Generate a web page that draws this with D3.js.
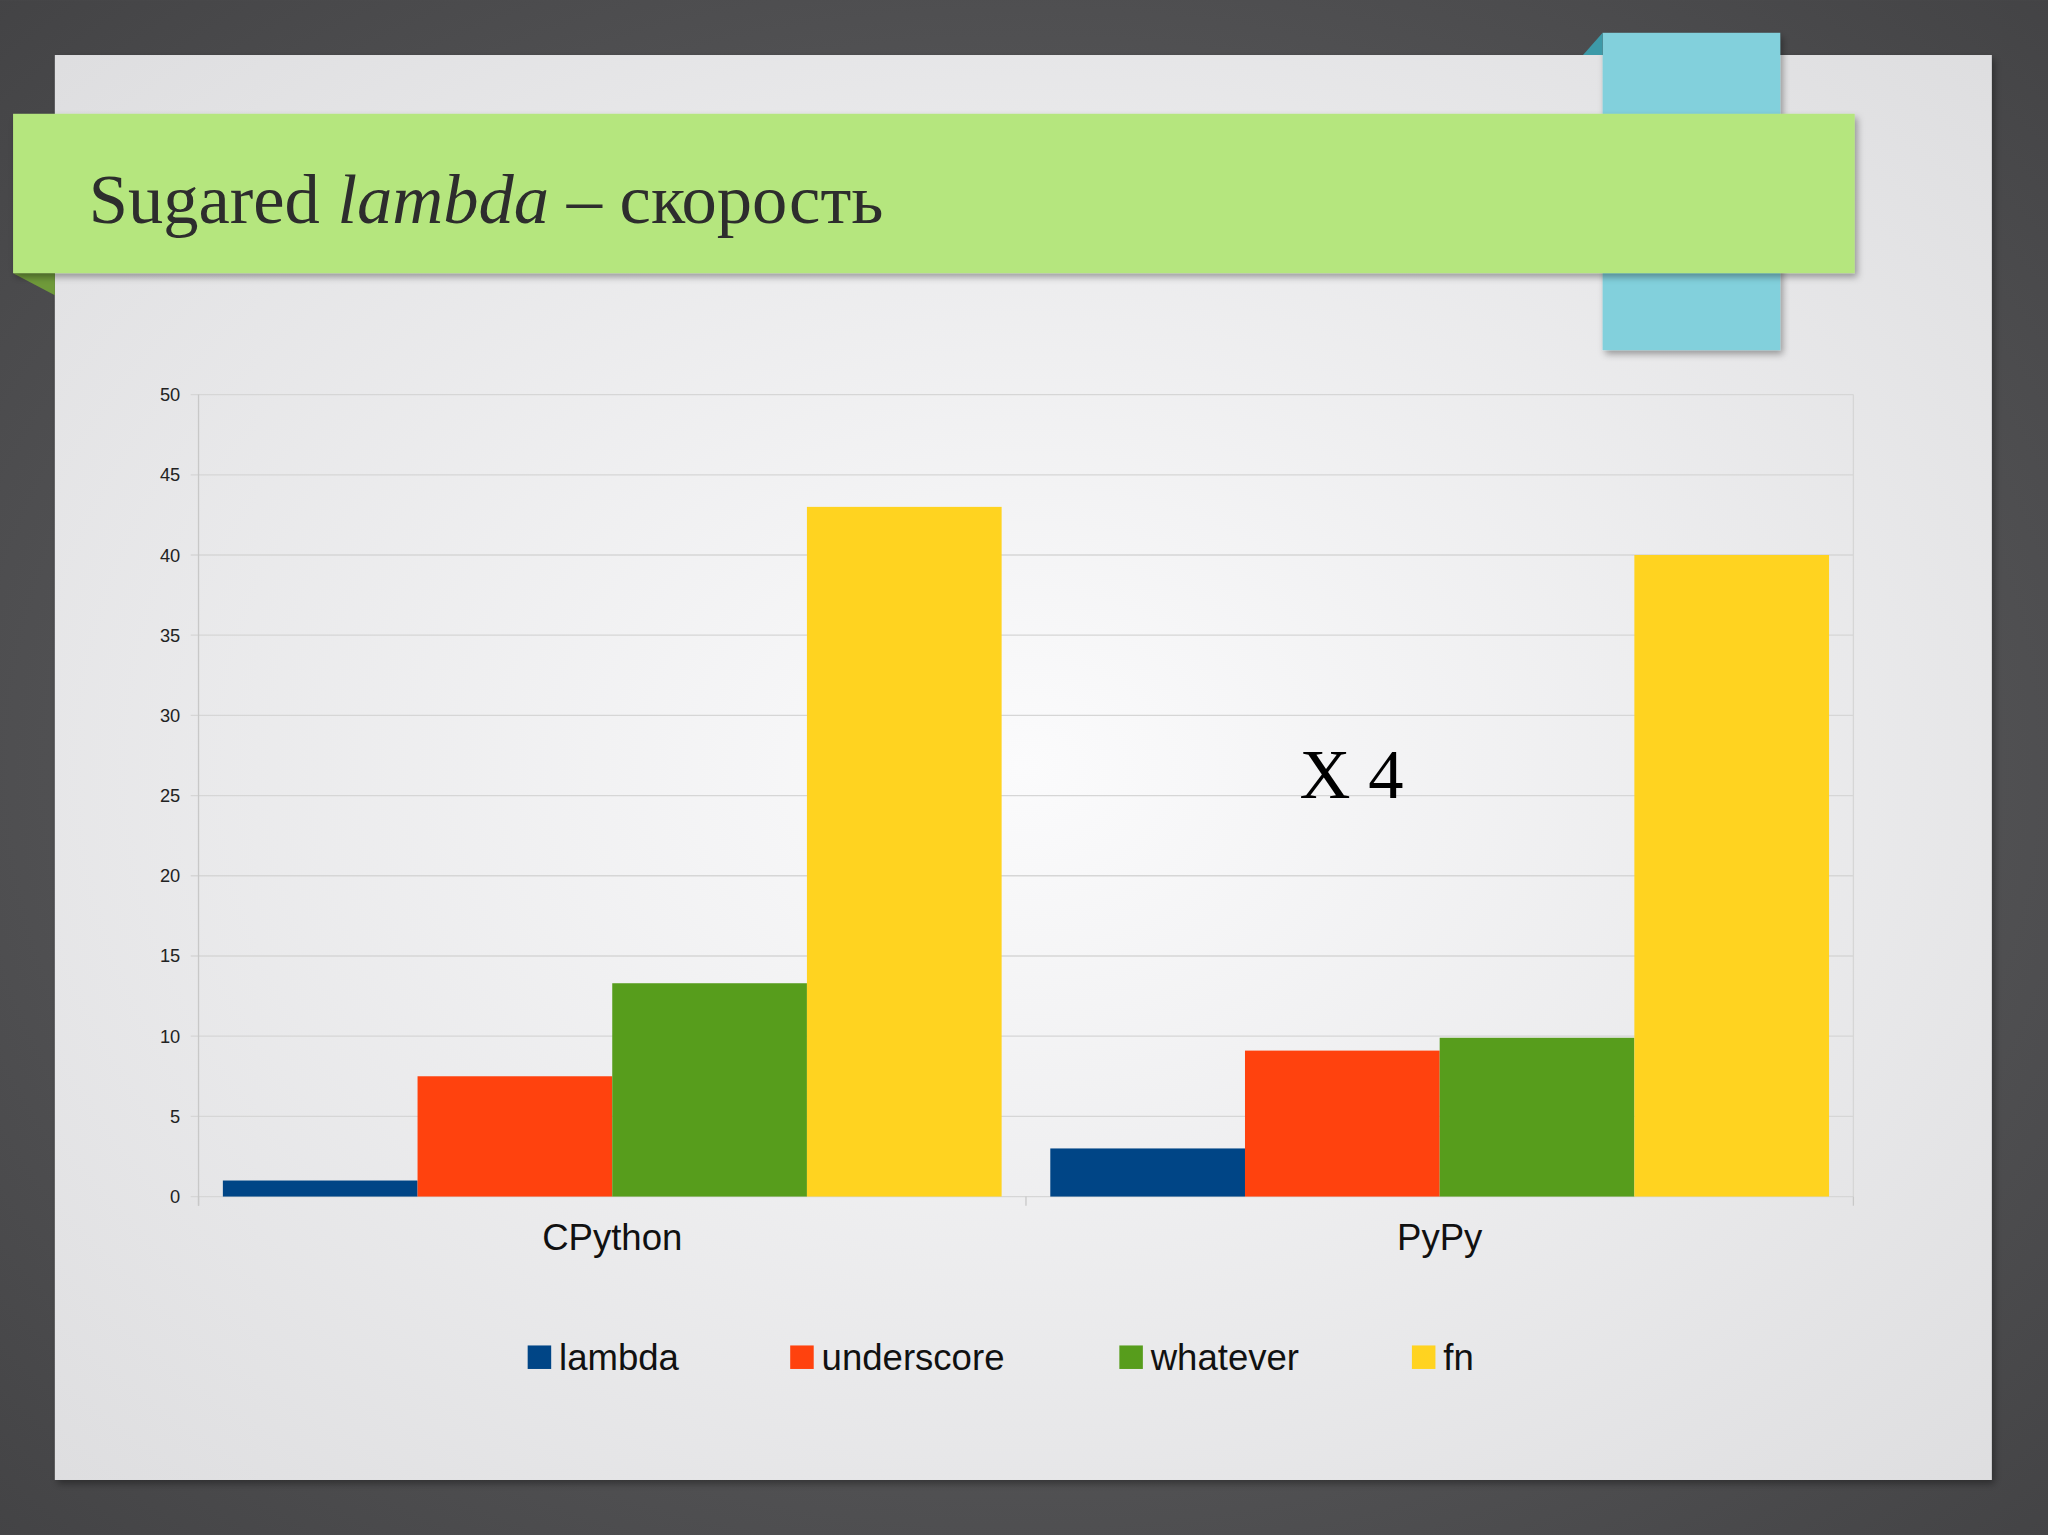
<!DOCTYPE html>
<html><head><meta charset="utf-8">
<script src="https://cdn.jsdelivr.net/npm/d3@7"></script>
<style>html,body{margin:0;padding:0;background:#4e4e50;}svg{display:block;}</style>
</head><body>
<div id="vis"></div>
<script>
// chart data
const categories = ['CPython', 'PyPy'];
const series = ['lambda', 'underscore', 'whatever', 'fn'];
const colors = ['#004586', '#ff420e', '#579d1c', '#ffd320'];
const values = {
    lambda: [1, 3],
    underscore: [7.5, 9.1],
    whatever: [13.3, 9.9],
    fn: [43, 40]
};
const yTicks = [0, 5, 10, 15, 20, 25, 30, 35, 40, 45, 50];

const W = 1568, H = 1175;
const svg = d3.select('#vis').append('svg')
    .attr('width', 2048).attr('height', 1535)
    .attr('viewBox', `0 0 ${W} ${H}`);

const defs = svg.append('defs');
const bg = defs.append('radialGradient').attr('id', 'bg').attr('cx', '0.5').attr('cy', '0.5').attr('r', '0.75');
bg.append('stop').attr('offset', '0').attr('stop-color', '#fbfbfc');
bg.append('stop').attr('offset', '1').attr('stop-color', '#dcdcde');
const frame = defs.append('radialGradient').attr('id', 'frame').attr('r', '0.75');
frame.append('stop').attr('offset', '0').attr('stop-color', '#6a6a6c');
frame.append('stop').attr('offset', '1').attr('stop-color', '#414143');
const sh = defs.append('filter').attr('id', 'sh').attr('x', '-5%').attr('y', '-10%').attr('width', '110%').attr('height', '130%');
sh.append('feDropShadow').attr('dx', 2).attr('dy', 3).attr('stdDeviation', 3).attr('flood-opacity', 0.35);

// slide frame
svg.append('rect').attr('width', W).attr('height', H).attr('fill', 'url(#frame)');
svg.append('rect').attr('x', 42).attr('y', 42).attr('width', 1483).attr('height', 1091)
    .attr('fill', 'url(#bg)').attr('filter', 'url(#sh)');

// decorations
svg.append('rect').attr('x', 1227).attr('y', 25).attr('width', 136).attr('height', 243)
    .attr('fill', '#82d0dc').attr('filter', 'url(#sh)');
svg.append('path').attr('d', 'M1212,42 L1227,25 L1227,42 Z').attr('fill', '#3d9aa8');
svg.append('path').attr('d', 'M10,209 L42,209 L42,226 Z').attr('fill', '#6f9a3a');
svg.append('rect').attr('x', 10).attr('y', 87).attr('width', 1410).attr('height', 122)
    .attr('fill', '#b5e67e').attr('filter', 'url(#sh)');

const title = svg.append('text').attr('x', 68).attr('y', 171)
    .attr('font-family', 'Liberation Serif, DejaVu Serif, serif')
    .attr('font-size', 54).attr('fill', '#2d2d2d');
title.append('tspan').text('Sugared ');
title.append('tspan').attr('font-style', 'italic').text('lambda');
title.append('tspan').text(' – скорость');

// chart
const margin = { left: 152, right: 1419, top: 302, bottom: 916 };
const x = d3.scaleBand().domain(categories).range([margin.left, margin.right]);
const xs = d3.scaleBand().domain(series).range([0, x.bandwidth()]).paddingOuter(0.125).paddingInner(0);
const y = d3.scaleLinear().domain([0, 50]).range([margin.bottom, margin.top]);

const g = svg.append('g');
g.selectAll('.grid').data(yTicks).join('line')
    .attr('x1', margin.left - 6).attr('x2', margin.right)
    .attr('y1', d => y(d)).attr('y2', d => y(d))
    .attr('stroke', '#d6d6d6').attr('stroke-width', 1);
g.append('line').attr('x1', margin.right).attr('x2', margin.right)
    .attr('y1', margin.top).attr('y2', margin.bottom).attr('stroke', '#d6d6d6');
g.append('line').attr('x1', margin.left).attr('x2', margin.left)
    .attr('y1', margin.top).attr('y2', margin.bottom + 7).attr('stroke', '#c8c8c8');
[...categories.map(c => x(c) + x.bandwidth()), margin.left].forEach(v =>
    g.append('line').attr('x1', v).attr('x2', v).attr('y1', margin.bottom).attr('y2', margin.bottom + 7).attr('stroke', '#c8c8c8'));

g.selectAll('.yt').data(yTicks).join('text')
    .attr('x', margin.left - 14).attr('y', d => y(d) + 5)
    .attr('text-anchor', 'end').attr('font-family', 'Liberation Sans, Arial, sans-serif')
    .attr('font-size', 14).attr('fill', '#222').text(d => d);

series.forEach((s, i) => {
    g.selectAll('.b' + i).data(categories).join('rect')
        .attr('x', c => x(c) + xs(s)).attr('width', xs.bandwidth())
        .attr('y', (c, j) => y(values[s][j]))
        .attr('height', (c, j) => y(0) - y(values[s][j]))
        .attr('fill', colors[i]);
});

g.selectAll('.xl').data(categories).join('text')
    .attr('x', c => x(c) + x.bandwidth() / 2).attr('y', 957)
    .attr('text-anchor', 'middle').attr('font-family', 'Liberation Sans, Arial, sans-serif')
    .attr('font-size', 28).attr('fill', '#111').text(c => c);

svg.append('text').attr('x', 995).attr('y', 611)
    .attr('font-family', 'Liberation Serif, DejaVu Serif, serif')
    .attr('font-size', 54).attr('fill', '#000').text('X 4');

// legend
const legendX = [404, 605, 857, 1081];
series.forEach((s, i) => {
    svg.append('rect').attr('x', legendX[i]).attr('y', 1030).attr('width', 18).attr('height', 18).attr('fill', colors[i]);
    svg.append('text').attr('x', legendX[i] + 24).attr('y', 1049)
        .attr('font-family', 'Liberation Sans, Arial, sans-serif')
        .attr('font-size', 28).attr('fill', '#111').text(s);
});
</script>
</body></html>
